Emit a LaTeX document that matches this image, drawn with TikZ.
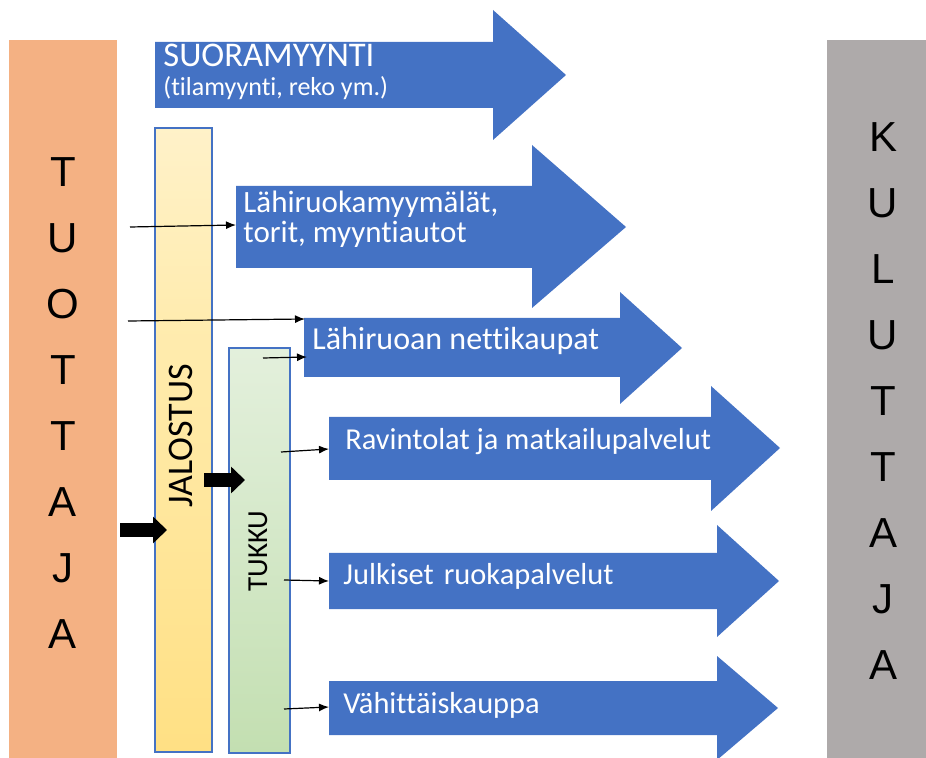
\documentclass[tikz,border=0pt]{standalone}
\usepackage{fontspec}
\setmainfont{Carlito}[Ligatures=NoCommon]
\newfontfamily\lettersfont{Liberation Sans}
\usetikzlibrary{arrows.meta}
\definecolor{arrowblue}{HTML}{4472C4}
\definecolor{producer}{HTML}{F4B183}
\definecolor{consumer}{HTML}{AEAAAA}
\definecolor{jalA}{HTML}{FFE8A5}
\definecolor{jalB}{HTML}{FFE084}
\definecolor{jalC}{HTML}{FFECB0}
\definecolor{jalD}{HTML}{FFFBF2}
\definecolor{tukA}{HTML}{D2E6C6}
\definecolor{tukB}{HTML}{C3DFB1}
\definecolor{tukC}{HTML}{DAEBD0}
\definecolor{tukD}{HTML}{F3F8F0}
\pgfdeclareverticalshading{jalostusshade}{100bp}{color(0bp)=(jalA); color(25bp)=(jalB); color(60bp)=(jalC); color(100bp)=(jalD)}
\pgfdeclareverticalshading{tukkushade}{100bp}{color(0bp)=(tukA); color(25bp)=(tukB); color(60bp)=(tukC); color(100bp)=(tukD)}

\begin{document}
\begin{tikzpicture}[x=0.5pt, y=-0.5pt,
  sidebar/.style={rectangle, inner sep=0pt, align=center, font=\lettersfont\fontsize{21}{33}\selectfont},
  procbox/.style={rectangle, draw=arrowblue, line width=0.75pt, inner sep=0pt, shade},
  blockarrow/.style={fill=arrowblue},
  lbl/.style={text=white, inner sep=0pt, anchor=base west, font=\fontsize{15.2}{18}\selectfont},
  feed/.style={-{Latex[length=5pt,width=4pt]}, line width=0.6pt},
  bigfeed/.style={-{Triangle[length=7pt,width=13pt]}, line width=7pt}]
\useasboundingbox (0,0) rectangle (926,758);

% tuottaja ja kuluttaja
\node[sidebar, fill=producer, minimum width=54pt, minimum height=363pt] (tuottaja) at (63,403) {T\\U\\O\\T\\T\\A\\J\\A};
\node[sidebar, fill=consumer, minimum width=56pt, minimum height=361pt] (kuluttaja) at (883,401) {K\\U\\L\\U\\T\\T\\A\\J\\A};

% jalostus ja tukku
\node[procbox, shading=jalostusshade, minimum width=28.5pt, minimum height=312pt] (jalostus) at (183.5,440) {};
\node[procbox, shading=tukkushade, minimum width=30.5pt, minimum height=202.5pt] (tukku) at (259.5,550.5) {};
\node[rotate=90, font=\fontsize{18}{20}\selectfont] (jalostuslbl) at (181,436) {JALOSTUS};
\node[rotate=90, font=\fontsize{14.5}{17}\selectfont] (tukkulbl) at (258,551) {TUKKU};

% myyntikanavat
\fill[blockarrow] (155,42) -- (493,42) -- (493,10) -- (566,75) -- (493,140) -- (493,108) -- (155,108) -- cycle;
\fill[blockarrow] (236,186) -- (532,186) -- (532,145) -- (626,227) -- (532,308) -- (532,268) -- (236,268) -- cycle;
\fill[blockarrow] (304,318) -- (620,318) -- (620,292) -- (682,348) -- (620,404) -- (620,377) -- (304,377) -- cycle;
\fill[blockarrow] (329,417) -- (711,417) -- (711,386) -- (780,448) -- (711,511) -- (711,480) -- (329,480) -- cycle;
\fill[blockarrow] (329,553) -- (717,553) -- (717,525) -- (779,581) -- (717,637) -- (717,609) -- (329,609) -- cycle;
\fill[blockarrow] (329,681) -- (717,681) -- (717,656) -- (778,708) -- (717,760) -- (717,735) -- (329,735) -- cycle;

\node[lbl, font=\fontsize{17.3}{20}\selectfont] (suora) at (163,67) {SUORAMYYNTI};
\node[lbl, font=\fontsize{13}{15}\selectfont] (suoralisa) at (163,96) {(tilamyynti, reko ym.)};
\node[lbl, font=\fontsize{15.5}{18}\selectfont] (lahikaupat) at (243,213) {Lähiruokamyymälät,};
\node[lbl, font=\fontsize{15.5}{18}\selectfont] (torit) at (243,243) {torit, myyntiautot};
\node[lbl, font=\fontsize{16}{18}\selectfont] (netti) at (312,350) {Lähiruoan nettikaupat};
\node[lbl] (ravintolat) at (345,450) {Ravintolat ja matkailupalvelut};
\node[lbl] (julkiset) at (343,585) {Julkiset\hspace{5pt}ruokapalvelut};
\node[lbl] (vahittais) at (343,713) {Vähittäiskauppa};

% ohuet nuolet
\coordinate (t1) at (130,227);
\coordinate (t2) at (128,321);
\coordinate (k1) at (263,358);
\coordinate (k2) at (281,452);
\coordinate (k3) at (284,580);
\coordinate (k4) at (284,709);
\coordinate (lahi in) at (236,225);
\coordinate (netti in) at (305,319);
\coordinate (netti in2) at (307,357);
\coordinate (ravintolat in) at (329,449);
\coordinate (julkiset in) at (329,581);
\coordinate (vahittais in) at (329,707);
\draw[feed] (t1) -- (lahi in);
\draw[feed] (t2) -- (netti in);
\draw[feed] (k1) -- (netti in2);
\draw[feed] (k2) -- (ravintolat in);
\draw[feed] (k3) -- (julkiset in);
\draw[feed] (k4) -- (vahittais in);

% paksut nuolet
\coordinate (tuottaja out) at (120,530);
\coordinate (jalostus in) at (167,530);
\coordinate (jalostus out) at (204,480);
\coordinate (tukku in) at (245,480);
\draw[bigfeed] (tuottaja out) -- (jalostus in);
\draw[bigfeed] (jalostus out) -- (tukku in);
\end{tikzpicture}
\end{document}
